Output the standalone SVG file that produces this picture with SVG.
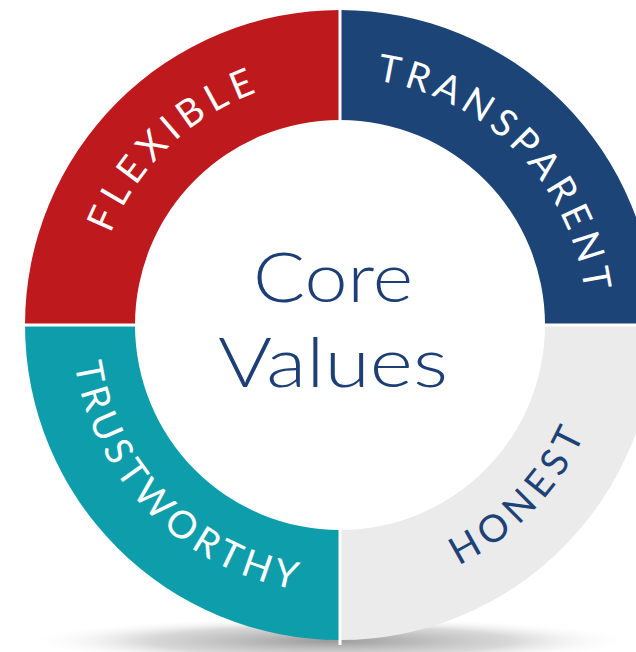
<svg xmlns="http://www.w3.org/2000/svg" width="636" height="652" viewBox="0 0 636 652">
  <defs>
    <radialGradient id="shadow" cx="0.5" cy="0.5" r="0.5">
      <stop offset="0" stop-color="#8f8f8f" stop-opacity="0.9"/>
      <stop offset="0.6" stop-color="#b8b8b8" stop-opacity="0.55"/>
      <stop offset="1" stop-color="#ffffff" stop-opacity="0"/>
    </radialGradient>
    <path id="pFlex" d="M110.5,233.7 A247,247 0 0 1 318.5,78.9"/>
    <path id="pTrans" d="M376.1,80.6 A247,247 0 0 1 583.2,367.9"/>
    <path id="pTrust" d="M74.8,363.7 A268,268 0 0 0 363.4,592"/>
    <path id="pHon" d="M458.5,565.4 A268,268 0 0 0 603.9,371.5"/>
  </defs>
  <style>
    .ring { font-family: "Lato", "Open Sans", "Liberation Sans", sans-serif; font-size: 38px; font-weight: 400; }
    .light { fill: #ffffff; }
    .dark { fill: #1d4277; }
    .center { font-family: "Lato", "Open Sans", "Liberation Sans", sans-serif; font-size: 68px; font-weight: 300; fill: #1d3f75; }
    .sep { stroke: #ffffff; stroke-width: 3; }
  </style>
  <rect width="636" height="652" fill="#ffffff"/>
  <ellipse cx="330" cy="641" rx="305" ry="24" fill="url(#shadow)"/>

  <g id="flexible">
    <path d="M25,325 A315,315 0 0 1 340,10 L340,120 A205,205 0 0 0 135,325 Z" fill="#be1a1e"/>
    <text class="ring light"><textPath href="#pFlex" startOffset="0" textLength="209.5" lengthAdjust="spacing">FLEXIBLE</textPath></text>
  </g>
  <g id="transparent">
    <path d="M340,10 A315,315 0 0 1 655,325 L545,325 A205,205 0 0 0 340,120 Z" fill="#1c4477"/>
    <text class="ring light"><textPath href="#pTrans" startOffset="0" textLength="318.2" lengthAdjust="spacing">TRANSPARENT</textPath></text>
  </g>
  <g id="honest">
    <path d="M655,325 A315,315 0 0 1 340,640 L340,530 A205,205 0 0 0 545,325 Z" fill="#ebebec"/>
    <text class="ring dark"><textPath href="#pHon" startOffset="0" textLength="184.8" lengthAdjust="spacing">HONEST</textPath></text>
  </g>
  <g id="trustworthy">
    <path d="M340,640 A315,315 0 0 1 25,325 L135,325 A205,205 0 0 0 340,530 Z" fill="#0e9eab"/>
    <text class="ring light"><textPath href="#pTrust" startOffset="0" textLength="336.8" lengthAdjust="spacing">TRUSTWORTHY</textPath></text>
  </g>

  <g id="connectors">
    <line class="sep" x1="340" y1="5" x2="340" y2="645"/>
    <line class="sep" x1="20" y1="325" x2="660" y2="325"/>
  </g>

  <g id="core-values">
    <text class="center" x="253" y="302" textLength="160" lengthAdjust="spacingAndGlyphs">Core</text>
    <text class="center" x="218" y="387" textLength="230" lengthAdjust="spacingAndGlyphs">Values</text>
  </g>
</svg>
